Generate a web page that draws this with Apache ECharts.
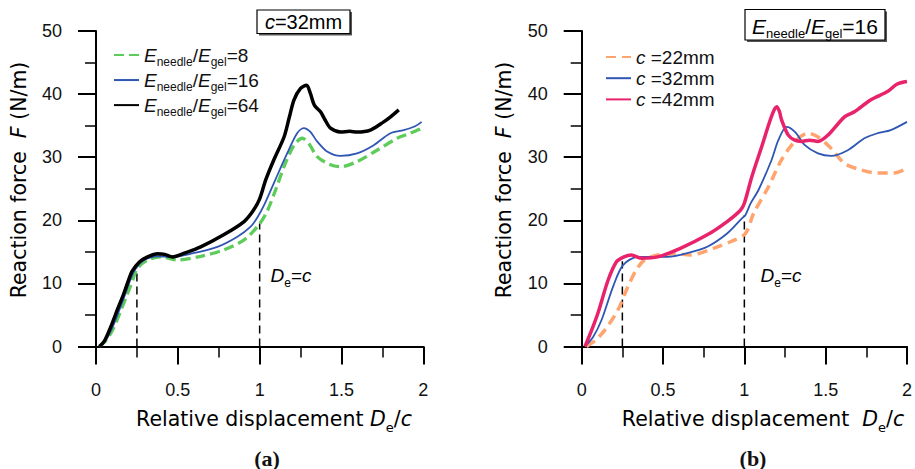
<!DOCTYPE html>
<html><head><meta charset="utf-8">
<script src="https://cdn.jsdelivr.net/npm/echarts@6/dist/echarts.min.js"></script>
<style>html,body{margin:0;padding:0;background:#fff}#c{width:915px;height:469px}</style>
</head><body><div id="c"></div>
<script>
// ---- data ----
const yTickValues = [0, 10, 20, 30, 40, 50];
const xTickValues = [0, 0.5, 1, 1.5, 2];
const leftLegend = ['E8', 'E16', 'E64'];
const rightLegend = ['c22', 'c32', 'c42'];

// (a) c = 32mm, different stiffness ratios
const leftE8 = [[0.02,0],[0.06,0.9],[0.105,2.8],[0.15,5.6],[0.193,8.4],[0.225,10.6],[0.253,12.4],[0.315,13.7],[0.396,14.2],[0.498,13.7],[0.64,14.3],[0.78,15.3],[0.905,16.9],[0.996,19.3],[1.047,21.5],[1.1,25.0],[1.149,28.5],[1.21,31.9],[1.26,33.0],[1.30,32.2],[1.351,30.1],[1.433,28.8],[1.494,28.5],[1.595,29.3],[1.717,31.1],[1.84,33.0],[1.92,33.8],[2.0,34.7]];
const leftE16 = [[0.02,0],[0.06,1.0],[0.10,3.0],[0.14,5.6],[0.18,8.4],[0.21,10.6],[0.244,12.4],[0.295,13.7],[0.376,14.3],[0.457,14.2],[0.58,14.7],[0.742,15.8],[0.864,17.4],[0.945,19.0],[0.985,20.4],[1.027,22.4],[1.087,25.9],[1.128,28.3],[1.168,30.6],[1.229,33.8],[1.27,34.6],[1.31,34.0],[1.351,32.5],[1.412,30.9],[1.494,30.2],[1.595,30.6],[1.697,31.9],[1.799,33.8],[1.88,34.3],[1.95,34.9],[1.99,35.6]];
const leftE64 = [[0.02,0],[0.05,0.8],[0.09,3.1],[0.13,5.8],[0.17,8.4],[0.2,10.6],[0.22,11.9],[0.265,13.4],[0.315,14.2],[0.376,14.7],[0.42,14.6],[0.468,14.2],[0.54,14.8],[0.64,15.8],[0.78,17.7],[0.905,19.8],[0.96,21.5],[1.0,23.4],[1.037,26.4],[1.087,29.6],[1.149,33.2],[1.18,36.2],[1.21,39.1],[1.25,40.9],[1.287,41.4],[1.31,40.1],[1.335,38.2],[1.372,37.2],[1.40,35.9],[1.433,34.6],[1.494,34.0],[1.55,34.1],[1.595,34.0],[1.677,34.3],[1.758,35.6],[1.80,36.4],[1.85,37.5]];

// (b) Eneedle/Egel = 16, different c
const rightC22 = [[0.03,0],[0.08,0.9],[0.142,2.6],[0.223,5.8],[0.284,9.5],[0.335,12.1],[0.386,13.7],[0.467,14.5],[0.569,14.7],[0.67,14.5],[0.813,15.6],[0.915,16.6],[1.006,17.9],[1.057,21.1],[1.148,25.3],[1.229,29.6],[1.311,32.5],[1.392,33.8],[1.453,33.2],[1.534,31.4],[1.616,29.0],[1.717,28.0],[1.819,27.5],[1.92,27.5],[2.0,28.2]];
const rightC32 = [[0.02,0],[0.07,1.5],[0.122,4.2],[0.193,9.5],[0.254,12.9],[0.345,14.2],[0.528,14.2],[0.65,14.8],[0.772,15.8],[0.894,17.9],[0.985,20.3],[1.006,20.8],[1.037,22.6],[1.087,24.8],[1.168,29.6],[1.209,32.7],[1.26,34.8],[1.311,34.0],[1.372,31.9],[1.453,30.6],[1.534,30.2],[1.636,31.1],[1.738,33.0],[1.819,33.8],[1.90,34.3],[2.0,35.6]];
const rightC42 = [[0.02,0],[0.06,2.5],[0.10,5.3],[0.162,10.5],[0.213,13.4],[0.26,14.2],[0.305,14.5],[0.366,14.0],[0.467,14.2],[0.61,15.6],[0.772,17.7],[0.894,19.8],[0.976,21.6],[1.0,22.7],[1.046,26.9],[1.107,31.7],[1.159,35.9],[1.185,37.6],[1.199,38.0],[1.215,37.3],[1.229,35.9],[1.27,33.5],[1.31,32.7],[1.351,32.5],[1.40,32.7],[1.453,32.5],[1.514,33.5],[1.616,36.4],[1.677,37.2],[1.778,39.1],[1.88,40.4],[1.94,41.6],[2.0,42.0]];

// reference dashed lines (De/c = 0.25 and De = c)
const refLeft1 = [[0.25,0],[0.25,12.4]];
const refLeft2 = [[1,0],[1,19.5]];
const refRight1 = [[0.25,0],[0.25,13.5]];
const refRight2 = [[1,0],[1,20.8]];

// ---- chart ----
const FONT = 'Liberation Sans, Arial, sans-serif';
const TFONT = 'DejaVu Sans, Verdana, sans-serif';
const TXT = '#111';
const chart = echarts.init(document.getElementById('c'), null, {renderer: 'svg'});

function rich(lh, family, size, subSize) {
  family = family || FONT; size = size || 19; subSize = subSize || 12;
  return {
    i: {fontFamily: family, fontSize: size, fontStyle: 'italic', color: TXT, verticalAlign: 'middle', lineHeight: lh},
    n: {fontFamily: family, fontSize: size, color: TXT, verticalAlign: 'middle', lineHeight: lh},
    s: {fontFamily: family, fontSize: subSize, color: TXT, verticalAlign: 'bottom'}
  };
}
const legendText = {
  E8: '{i|E}{s|needle}{n|/}{i|E}{s|gel}{n|=8}',
  E16: '{i|E}{s|needle}{n|/}{i|E}{s|gel}{n|=16}',
  E64: '{i|E}{s|needle}{n|/}{i|E}{s|gel}{n|=64}',
  c22: '{i|c}{n| =22mm}',
  c32: '{i|c}{n| =32mm}',
  c42: '{i|c}{n| =42mm}'
};

function xAxis(gi) {
  return {
    type: 'value', gridIndex: gi, min: 0, max: 2, interval: 0.5,
    axisLine: {show: true, onZero: false, lineStyle: {color: '#000', width: 2}},
    axisTick: {show: true, length: 18, lineStyle: {color: '#000', width: 2}},
    minorTick: {show: true, splitNumber: 2, length: 11, lineStyle: {color: '#000', width: 1.5}},
    splitLine: {show: false}, minorSplitLine: {show: false},
    axisLabel: {margin: 34, fontFamily: FONT, fontSize: 18, color: TXT,
      formatter: v => (xTickValues.indexOf(v) >= 0 ? String(v) : '')}
  };
}
function yAxis(gi) {
  return {
    type: 'value', gridIndex: gi, min: 0, max: 50, interval: 10,
    axisLine: {show: true, onZero: false, lineStyle: {color: '#000', width: 2}},
    axisTick: {show: true, length: 18, lineStyle: {color: '#000', width: 2}},
    minorTick: {show: true, splitNumber: 2, length: 11, lineStyle: {color: '#000', width: 1.5}},
    splitLine: {show: false}, minorSplitLine: {show: false},
    axisLabel: {margin: 34, fontFamily: FONT, fontSize: 18, color: TXT,
      formatter: v => (yTickValues.indexOf(v) >= 0 ? String(v) : '')}
  };
}
function line(name, data, gi, color, width, dash, z) {
  return {
    name: name, type: 'line', xAxisIndex: gi, yAxisIndex: gi, data: data,
    symbol: 'none', smooth: 0.3, z: z || 3, silent: true,
    lineStyle: {color: color, width: width, type: dash || 'solid', cap: 'butt'},
    itemStyle: {color: color}
  };
}
function ref(data, gi) {
  return {
    type: 'line', xAxisIndex: gi, yAxisIndex: gi, data: data, symbol: 'none', z: 1, silent: true,
    lineStyle: {color: '#000', width: 1.5, type: [8, 5]}
  };
}

function boxGroup(x, y, w, h, textRich, cx, cy, fs) {
  return [
    {type: 'rect', shape: {x: x + 2, y: y + 2, width: w, height: h}, style: {fill: '#555'}, z: 10},
    {type: 'rect', shape: {x: x, y: y, width: w, height: h}, style: {fill: '#fff', stroke: '#000', lineWidth: 1.2}, z: 11},
    {type: 'text', x: cx, y: cy, z: 12, style: {text: textRich, rich: rich(28, FONT, fs, 13), align: 'center', verticalAlign: 'middle'}}
  ];
}
const yTitle = '{n|Reaction force  }{i|F}{n| (N/m)}';

const option = {
  animation: false,
  backgroundColor: '#fff',
  grid: [
    {left: 96, top: 31, width: 327.3, height: 315.5, containLabel: false},
    {left: 581.7, top: 31, width: 328.3, height: 315.5, containLabel: false}
  ],
  xAxis: [xAxis(0), xAxis(1)],
  yAxis: [yAxis(0), yAxis(1)],
  legend: [
    {data: leftLegend, orient: 'vertical', left: 113, top: 45.5, itemWidth: 25, itemHeight: 14, itemGap: 2.2,
      padding: 0, selectedMode: false, itemStyle: {opacity: 0}, formatter: n => legendText[n], textStyle: {rich: rich(26.7)}},
    {data: rightLegend, orient: 'vertical', left: 605, top: 47.5, itemWidth: 25, itemHeight: 14, itemGap: 2.2,
      padding: 0, selectedMode: false, itemStyle: {opacity: 0}, formatter: n => legendText[n], textStyle: {rich: rich(23.7)}}
  ],
  series: [
    ref(refLeft1, 0), ref(refLeft2, 0), ref(refRight1, 1), ref(refRight2, 1),
    line('E8', leftE8, 0, '#5dcc5a', 3.3, [10, 5], 3),
    line('E16', leftE16, 0, '#2f56b3', 1.8, 'solid', 4),
    line('E64', leftE64, 0, '#000000', 3.5, 'solid', 5),
    line('c22', rightC22, 1, '#ffa46e', 3.5, [10, 6], 3),
    line('c32', rightC32, 1, '#2f56b3', 1.8, 'solid', 4),
    line('c42', rightC42, 1, '#e8236b', 3.5, 'solid', 5)
  ],
  graphic: [].concat(
    boxGroup(257, 10, 93, 23.5, '{i|c}{n|=32mm}', 303.5, 21.5, 20),
    boxGroup(745, 9.5, 140, 30.5, '{i|E}{s|needle}{n|/}{i|E}{s|gel}{n|=16}', 815, 26, 21),
    [
      {type: 'text', x: 19, y: 180, rotation: Math.PI / 2, z: 12,
        style: {text: yTitle, rich: rich(30, TFONT, 20.5, 13), align: 'center', verticalAlign: 'middle'}},
      {type: 'text', x: 504, y: 180, rotation: Math.PI / 2, z: 12,
        style: {text: yTitle, rich: rich(30, TFONT, 20.5, 13), align: 'center', verticalAlign: 'middle'}},
      {type: 'text', x: 274, y: 419, z: 12,
        style: {text: '{n|Relative displacement }{i|D}{s|e}{n|/}{i|c}', rich: rich(30, TFONT, 20.5, 13), align: 'center', verticalAlign: 'middle'}},
      {type: 'text', x: 763, y: 419, z: 12,
        style: {text: '{n|Relative displacement  }{i|D}{s|e}{n|/}{i|c}', rich: rich(30, TFONT, 20.5, 13), align: 'center', verticalAlign: 'middle'}},
      {type: 'text', x: 291, y: 275, z: 12,
        style: {text: '{i|D}{s|e}{n|=}{i|c}', rich: rich(28), align: 'center', verticalAlign: 'middle'}},
      {type: 'text', x: 781, y: 275, z: 12,
        style: {text: '{i|D}{s|e}{n|=}{i|c}', rich: rich(28), align: 'center', verticalAlign: 'middle'}},
      {type: 'text', x: 267, y: 458, z: 12,
        style: {text: '(a)', fontFamily: 'Liberation Serif, Times New Roman, serif', fontWeight: 'bold', fontSize: 22, fill: TXT, align: 'center', verticalAlign: 'middle'}},
      {type: 'text', x: 753, y: 458, z: 12,
        style: {text: '(b)', fontFamily: 'Liberation Serif, Times New Roman, serif', fontWeight: 'bold', fontSize: 22, fill: TXT, align: 'center', verticalAlign: 'middle'}}
    ]
  )
};
chart.setOption(option);
</script>
</body></html>
